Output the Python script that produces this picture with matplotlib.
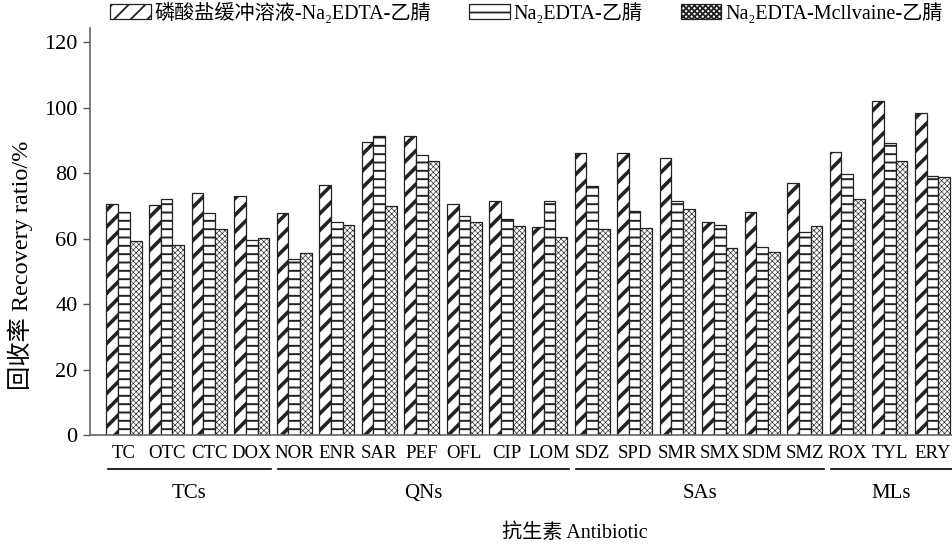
import numpy as np
import matplotlib.pyplot as plt
from matplotlib import transforms

plt.rcParams['font.family'] = ['Liberation Serif', 'Noto Sans CJK SC', 'DejaVu Sans']
plt.rcParams['hatch.linewidth'] = 1.3

# Recovery ratio (%)
antibiotics = ['TC', 'OTC', 'CTC', 'DOX', 'NOR', 'ENR', 'SAR', 'PEF', 'OFL', 'CIP',
               'LOM', 'SDZ', 'SPD', 'SMR', 'SMX', 'SDM', 'SMZ', 'ROX', 'TYL', 'ERY']
phosphate = [70.5, 70.2, 73.8, 73.1, 67.9, 76.4, 89.4, 91.4, 70.5, 71.5,
             63.6, 86.0, 86.0, 84.7, 65.1, 68.0, 77.0, 86.5, 102.0, 98.2]
na2edta = [68.0, 72.2, 67.9, 59.6, 53.8, 65.0, 91.2, 85.4, 66.8, 65.9,
           71.5, 76.0, 68.5, 71.5, 64.1, 57.5, 62.0, 79.7, 89.2, 79.2]
mcilvaine = [59.4, 58.1, 62.9, 60.2, 55.6, 64.0, 70.0, 83.7, 65.0, 63.9,
             60.4, 63.0, 63.1, 69.1, 57.2, 55.8, 63.9, 72.0, 83.7, 78.9]

series_labels = ['磷酸盐缓冲溶液-Na₂EDTA-乙腈', 'Na₂EDTA-乙腈', 'Na₂EDTA-Mcllvaine-乙腈']
hatches = ['//', '--', 'xxxxxx']
hatch_widths = [2.6, 1.4, 0.45]

groups = ['TCs', 'QNs', 'SAs', 'MLs']
group_first = [0, 4, 11, 17]
group_last = [3, 10, 16, 19]

fig = plt.figure(figsize=(9.52, 5.45), dpi=100)
ax = fig.add_axes([90 / 952, 110 / 545, 862 / 952, 407 / 545])

x = np.arange(len(antibiotics))
w = 0.275
for i, (vals, lab, h) in enumerate(zip([phosphate, na2edta, mcilvaine], series_labels, hatches)):
    bars = ax.bar(x + (i - 1) * w, vals, w, facecolor='white', edgecolor='#222222',
                  linewidth=0.9, hatch=h, label=lab)
    for b in bars:
        try:
            b.set_hatch_linewidth(hatch_widths[i])
        except AttributeError:
            pass

ax.set_xlim(-0.80, 19.46)
ax.set_ylim(0, 124.3)
ax.set_yticks(range(0, 121, 20))
ax.tick_params(axis='y', labelsize=16, length=5, width=1, color='#555555', pad=4)
ax.set_xticks(x)
ax.set_xticklabels(antibiotics, fontsize=13.5)
ax.tick_params(axis='x', length=0, pad=7)
for s in ['top', 'right']:
    ax.spines[s].set_visible(False)
for s in ['left', 'bottom']:
    ax.spines[s].set_color('#666666')
    ax.spines[s].set_linewidth(1.2)

# group lines and labels under the tick labels
trans = transforms.blended_transform_factory(ax.transData, fig.transFigure)
for g, a, b in zip(groups, group_first, group_last):
    x0 = a - 0.38
    x1 = min(b + 0.45, 19.46)
    ax.plot([x0, x1], [1 - 469 / 545] * 2, color='black', lw=1.2,
            transform=trans, clip_on=False)
    ax.text((x0 + x1) / 2, 1 - 498 / 545, g, fontsize=15, ha='center', va='baseline',
            transform=trans)

fig.text(575 / 952, 1 - 533 / 545, '抗生素 Antibiotic', fontsize=14.5, ha='center', va='center')
fig.text(20 / 952, 1 - 265 / 545, '回收率 Recovery ratio/%', fontsize=17.5, rotation=90,
         ha='center', va='center')

leg = ax.legend(loc='center', bbox_to_anchor=(0.553, 0.976), bbox_transform=fig.transFigure,
                ncol=3, frameon=False, fontsize=14.5, handlelength=2.0, handleheight=0.8,
                handletextpad=0.2, columnspacing=1.9, borderaxespad=0)

fig.savefig('out.png', dpi=100)
